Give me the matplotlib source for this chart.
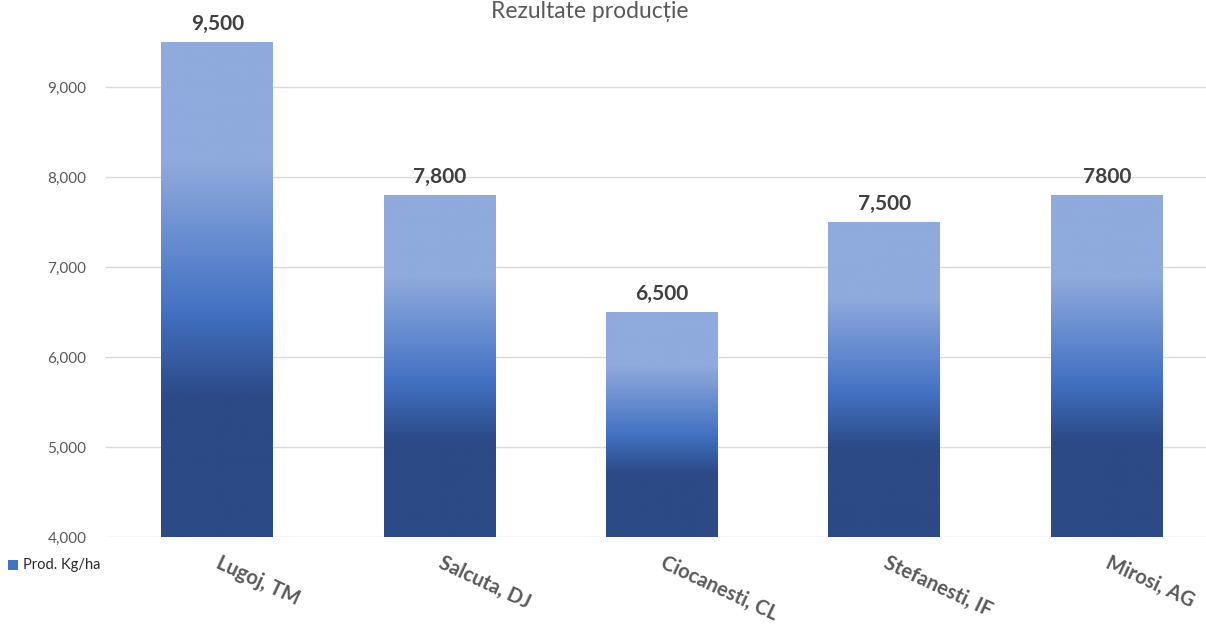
import numpy as np
import matplotlib
matplotlib.use("Agg")
import matplotlib.pyplot as plt
from matplotlib.colors import LinearSegmentedColormap
from matplotlib.patches import Rectangle

categories = ["Lugoj, TM", "Salcuta, DJ", "Ciocanesti, CL", "Stefanesti, IF", "Mirosi, AG"]
values = [9500, 7800, 6500, 7500, 7800]
value_labels = ["9,500", "7,800", "6,500", "7,500", "7800"]
yticks = [4000, 5000, 6000, 7000, 8000, 9000]
title = "Rezultate producție"
series_name = "Prod. Kg/ha"

plt.rcParams['font.family'] = ['Lato', 'DejaVu Sans']

W, H = 1206, 626
fig = plt.figure(figsize=(W / 100, H / 100), dpi=100)
left_px, right_px = 106, 1218
bottom_px, top_px = 537, 0
ax = fig.add_axes([left_px / W, 1 - bottom_px / H, (right_px - left_px) / W, (bottom_px - top_px) / H])

ymin = 4000
ymax = 4000 + 537 / 90 * 1000

cmap = LinearSegmentedColormap.from_list(
    "grad",
    [(0.0, "#2B4A86"), (0.28, "#2B4A86"), (0.46, "#4472C4"), (0.76, "#8FAADC"), (1.0, "#8FAADC")],
)
grad = np.linspace(0, 1, 256).reshape(-1, 1)

x = np.arange(len(categories))
bars = ax.bar(x, values, width=0.503, color="none", edgecolor="none", zorder=2)
for b, v in zip(bars, values):
    x0 = b.get_x()
    x1 = x0 + b.get_width()
    im = ax.imshow(grad, cmap=cmap, origin="lower", aspect="auto",
                   extent=[x0, x1, ymin, v], zorder=2, interpolation="bilinear")
    im.set_clip_path(b)
ax.set_xlim(-0.5, len(categories) - 0.5)
ax.set_ylim(ymin, ymax)

for xi, v, lab in zip(x, values, value_labels):
    ax.annotate(lab, (xi, v), xytext=(0, 6), textcoords="offset points",
                ha="center", va="bottom", fontsize=15, fontweight="bold", color="#404040")

ax.set_yticks(yticks)
ax.set_yticklabels([f"{t:,}" for t in yticks], fontsize=11, color="#595959")
ax.yaxis.grid(True, color="#D9D9D9", linewidth=1)
ax.set_axisbelow(True)
ax.tick_params(axis="y", length=0, pad=14)
ax.tick_params(axis="x", length=0, pad=18)
for s in ax.spines.values():
    s.set_visible(False)

ax.set_xticks(x)
ax.set_xticklabels(categories, rotation=-25, rotation_mode="anchor", ha="left", va="center",
                   fontsize=14.5, fontweight="bold", color="#595959")

fig.text(590 / W, 1 - 18 / H, title, ha="center", va="baseline", fontsize=16.5, color="#595959")

# legend
fig.patches.append(Rectangle((8 / W, 1 - 570 / H), 10 / W, 10 / H, transform=fig.transFigure,
                             facecolor="#4472C4", edgecolor="none"))
fig.text(23 / W, 1 - 565 / H, series_name, ha="left", va="center", fontsize=10.5, color="#262626")

fig.savefig("out.png", dpi=100)
